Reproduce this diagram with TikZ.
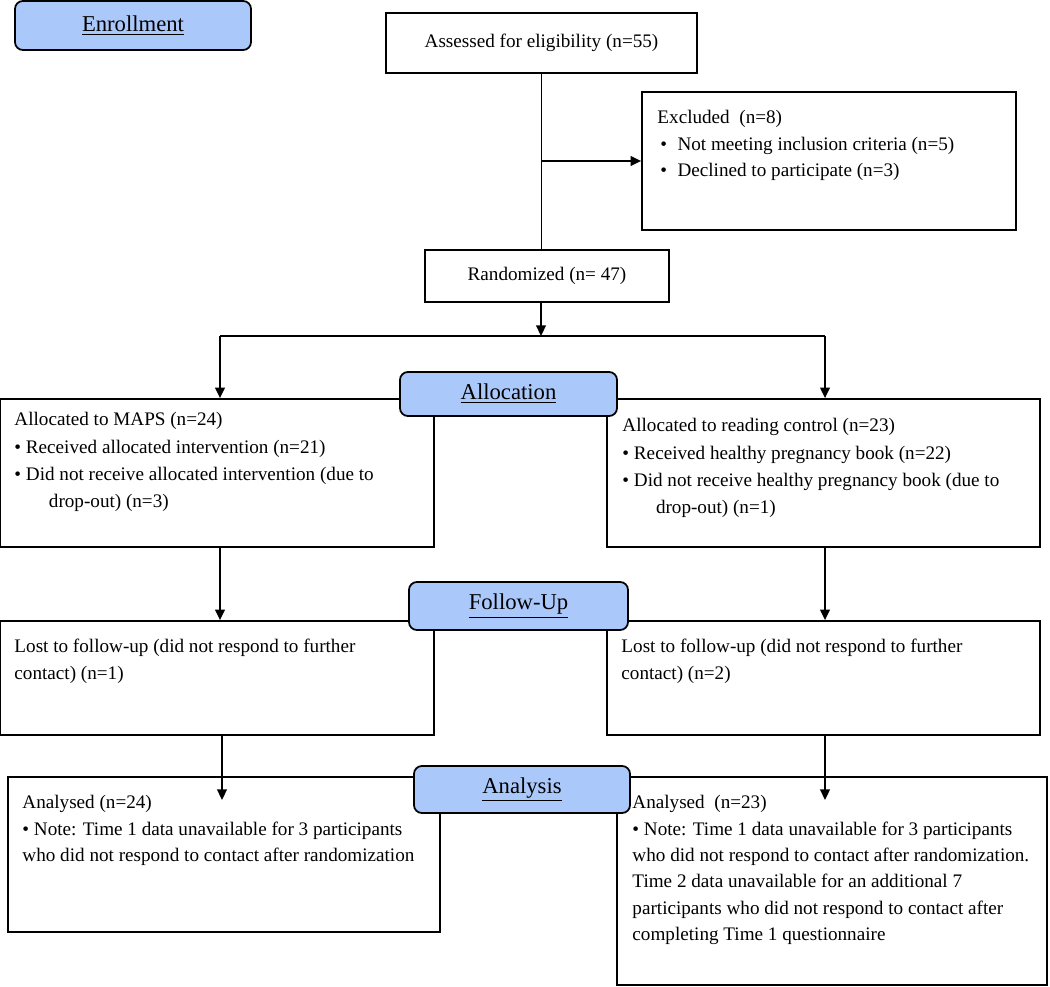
\documentclass[tikz,border=0pt]{standalone}
\usepackage{fontspec}
\setmainfont{Liberation Serif}
\usetikzlibrary{arrows.meta, fit}
\definecolor{stageblue}{RGB}{170,200,250}
\tikzstyle{box} = [rectangle, draw=black, line width=1pt, inner sep=0pt]
\tikzstyle{stage} = [rectangle, rounded corners=4.5pt, draw=black, line width=1pt, fill=stageblue, inner sep=0pt]
\tikzstyle{stagetxt} = [inner sep=0pt, font=\fontsize{12.9}{15}\selectfont]
\tikzstyle{mid} = [inner sep=0pt, font=\fontsize{10.9}{15}\selectfont]
\tikzstyle{txt} = [anchor=north west, align=left, inner sep=0pt, font=\fontsize{10.9}{15}\selectfont]
\tikzstyle{arrow} = [line width=1pt, -{Triangle[length=6pt,width=5.5pt]}]
\tikzstyle{line} = [line width=1pt]

\begin{document}
\begin{tikzpicture}[x=0.02cm, y=-0.02cm]
\useasboundingbox (0,0) rectangle (1050,986);

% enrollment
\node (assess) [box, fit={(386,13) (697,73)}] {};
\node (assesst) [mid] at (assess.center) {Assessed for eligibility (n=55)};
\node (excl) [box, fit={(642,92) (1016,230)}] {};
\node (exclt) [txt] at ([shift={(16,19)}]excl.north west) {Excluded\ \ (n=8)\\
\hspace*{0.15em}\makebox[0.9em][l]{•}Not meeting inclusion criteria (n=5)\\
\hspace*{0.15em}\makebox[0.9em][l]{•}Declined to participate (n=3)};
\node (rand) [box, fit={(425,250) (669,302)}] {};
\node (randt) [mid] at (rand.center) {Randomized (n= 47)};

% allocation
\node (alloc1) [box, fit={(0,399) (434,547)}] {};
\node (alloc1t) [txt, font=\fontsize{10.9}{15.6}\selectfont] at ([shift={(15,14)}]alloc1.north west) {Allocated to MAPS (n=24)\\
• Received allocated intervention (n=21)\\
• Did not receive allocated intervention (due to\\
\hspace*{1.8em}drop-out) (n=3)};
\node (alloc2) [box, fit={(607,399) (1040,547)}] {};
\node (alloc2t) [txt, font=\fontsize{10.9}{15.6}\selectfont] at ([shift={(16,20)}]alloc2.north west) {Allocated to reading control (n=23)\\
• Received healthy pregnancy book (n=22)\\
• Did not receive healthy pregnancy book (due to\\
\hspace*{1.75em}drop-out) (n=1)};

% follow-up
\node (fu1) [box, fit={(0,621) (434,735)}] {};
\node (fu1t) [txt] at ([shift={(15,19)}]fu1.north west) {Lost to follow-up (did not respond to further\\
contact) (n=1)};
\node (fu2) [box, fit={(607,621) (1040,735)}] {};
\node (fu2t) [txt] at ([shift={(15,19)}]fu2.north west) {Lost to follow-up (did not respond to further\\
contact) (n=2)};

% analysis
\node (ana1) [box, fit={(8,777) (440,932)}] {};
\node (ana1t) [txt] at ([shift={(15,19)}]ana1.north west) {Analysed (n=24)\\
• Note: Time 1 data unavailable for 3 participants\\
who did not respond to contact after randomization};
\node (ana2) [box, fit={(617,777) (1047,985)}] {};
\node (ana2t) [txt] at ([shift={(16,19)}]ana2.north west) {Analysed\ \ (n=23)\\
• Note: Time 1 data unavailable for 3 participants\\
who did not respond to contact after randomization.\\
Time 2 data unavailable for an additional 7\\
participants who did not respond to contact after\\
completing Time 1 questionnaire};

% connectors
\coordinate (split) at (541,336);
\coordinate (splitL) at (220,336);
\coordinate (splitR) at (825,336);
\coordinate (inL) at (222,800);
\coordinate (inR) at (825,800);

\draw[line] (assess.south) -- (assess.south |- rand.north);
\draw[arrow] (assess.south |- excl.west) -- (excl.west);
\draw[arrow] (split |- rand.south) -- (split);
\draw[line] (splitL) -- (splitR);
\draw[arrow] (splitL) -- (splitL |- alloc1.north);
\draw[arrow] (splitR) -- (splitR |- alloc2.north);
\draw[arrow] (splitL |- alloc1.south) -- (splitL |- fu1.north);
\draw[arrow] (splitR |- alloc2.south) -- (splitR |- fu2.north);
\draw[arrow] (inL |- fu1.south) -- (inL);
\draw[arrow] (inR |- fu2.south) -- (inR);

% stage labels
\node (enrol) [stage, fit={(15,1) (251,50)}] {};
\node (enrolt) [stagetxt] at (enrol.center) {\underline{Enrollment}};
\node (alloc) [stage, fit={(400,372) (617,416)}] {};
\node (alloct) [stagetxt] at (alloc.center) {\underline{Allocation}};
\node (follow) [stage, fit={(409,582) (628,630)}] {};
\node (followt) [stagetxt] at (follow.center) {\underline{Follow-Up}};
\node (anal) [stage, fit={(414,766) (630,813)}] {};
\node (analt) [stagetxt] at (anal.center) {\underline{Analysis}};

\end{tikzpicture}
\end{document}
